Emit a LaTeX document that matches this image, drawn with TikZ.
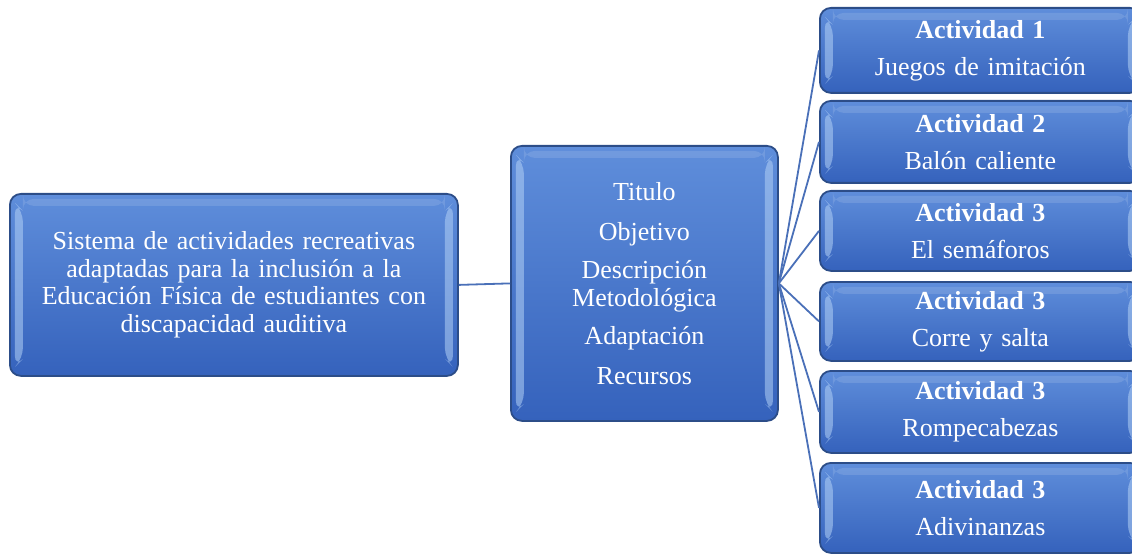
\documentclass[tikz,border=0pt]{standalone}
\usepackage{fontspec}
\setmainfont{Liberation Serif}
\definecolor{boxtop}{HTML}{5F8EDB}
\definecolor{boxbot}{HTML}{3562BC}
\definecolor{boxedge}{HTML}{2C4D88}
\definecolor{bevel}{HTML}{B2D0F5}
\definecolor{linkc}{HTML}{4A70B8}
\tikzset{
  card/.style={draw=boxedge, line width=1.8pt, rounded corners=11pt,
    top color=boxtop, bottom color=boxbot, text=white, align=center,
    inner sep=0pt, anchor=north west,
    path picture={
      \fill[bevel, opacity=0.55]
        ([xshift=5pt,yshift=-9pt]path picture bounding box.north west)
        -- ([xshift=13pt,yshift=-17pt]path picture bounding box.north west)
        -- ([xshift=13pt,yshift=17pt]path picture bounding box.south west)
        -- ([xshift=5pt,yshift=9pt]path picture bounding box.south west) -- cycle;
      \fill[bevel, opacity=0.55]
        ([xshift=-5pt,yshift=-9pt]path picture bounding box.north east)
        -- ([xshift=-13pt,yshift=-17pt]path picture bounding box.north east)
        -- ([xshift=-13pt,yshift=17pt]path picture bounding box.south east)
        -- ([xshift=-5pt,yshift=9pt]path picture bounding box.south east) -- cycle;
      \fill[white, opacity=0.12]
        ([xshift=13pt,yshift=-5pt]path picture bounding box.north west)
        rectangle ([xshift=-13pt,yshift=-12pt]path picture bounding box.north east);
    }},
  bigtext/.style={font=\fontsize{26}{27.5}\selectfont},
  acttext/.style={font=\fontsize{26}{27}\selectfont},
  link/.style={draw=linkc, line width=1.8pt},
}
\newcommand{\act}[2]{\textbf{#1}\\[10pt]#2}
\begin{document}
\begin{tikzpicture}[x=1pt,y=-1pt]
\useasboundingbox (0,0) rectangle (1132,556);

\node[card, bigtext, minimum width=448pt, minimum height=182pt, text width=430pt] (main) at (9,193)
  {Sistema de actividades recreativas\\adaptadas para la inclusión a la\\Educación Física de estudiantes con\\discapacidad auditiva};

\node[card, bigtext, minimum width=267pt, minimum height=275pt, text width=255pt] (mid) at (510,145)
  {Titulo\\[12pt]Objetivo\\[11pt]Descripción\\Metodológica\\[11pt]Adaptación\\[12pt]Recursos};

\node[card, acttext, minimum width=321pt, minimum height=85pt, text width=300pt] (a1) at (819,7)
  {\act{Actividad 1}{Juegos de imitación}};
\node[card, acttext, minimum width=321pt, minimum height=82pt, text width=300pt] (a2) at (819,100)
  {\act{Actividad 2}{Balón caliente}};
\node[card, acttext, minimum width=321pt, minimum height=80pt, text width=300pt] (a3) at (819,190)
  {\act{Actividad 3}{El semáforos}};
\node[card, acttext, minimum width=321pt, minimum height=79pt, text width=300pt] (a4) at (819,281)
  {\act{Actividad 3}{Corre y salta}};
\node[card, acttext, minimum width=321pt, minimum height=82pt, text width=300pt] (a5) at (819,370)
  {\act{Actividad 3}{Rompecabezas}};
\node[card, acttext, minimum width=321pt, minimum height=90pt, text width=300pt] (a6) at (819,462)
  {\act{Actividad 3}{Adivinanzas}};

\draw[link] (main.east) -- (mid.west);
\foreach \k in {a1,a2,a3,a4,a5,a6}
  \draw[link] (mid.east) -- (\k.west);
\end{tikzpicture}
\end{document}
